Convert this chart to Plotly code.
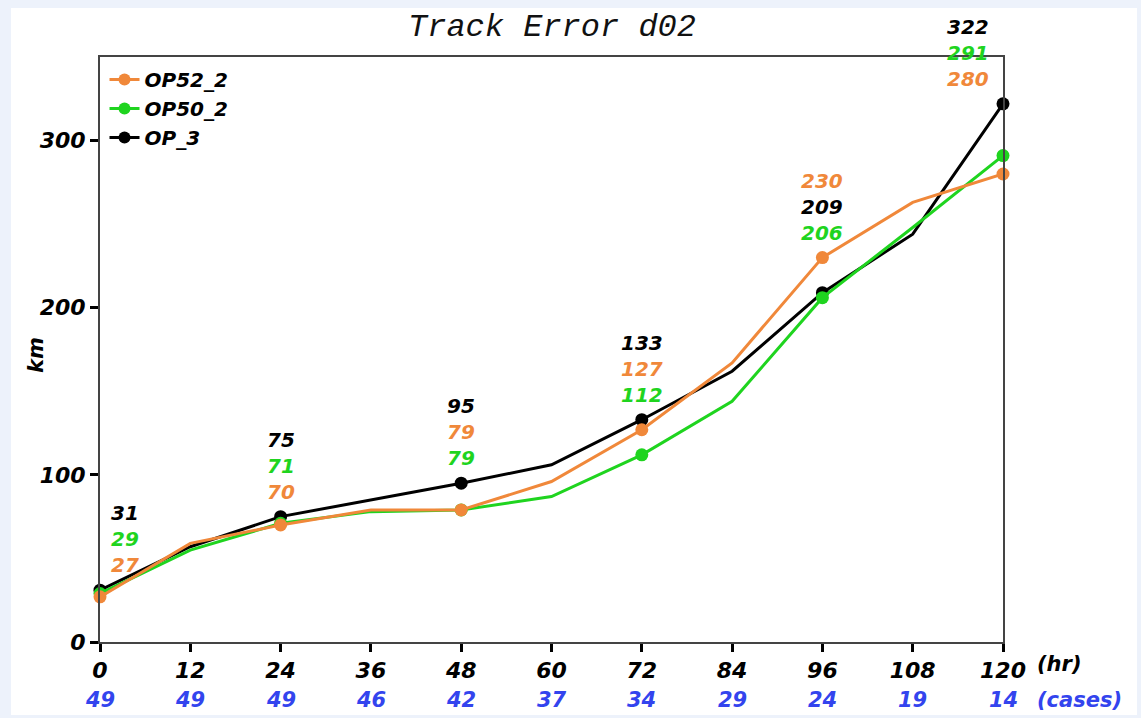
import plotly.graph_objects as go

# Forecast lead times (hours) and number of verified cases at each
hours = [0, 12, 24, 36, 48, 60, 72, 84, 96, 108, 120]
cases = [49, 49, 49, 46, 42, 37, 34, 29, 24, 19, 14]

# Mean track error (km) per experiment
op52_2 = [27, 59, 70, 79, 79, 96, 127, 167, 230, 263, 280]
op50_2 = [29, 55, 71, 78, 79, 87, 112, 144, 206, 248, 291]
op_3 = [31, 57, 75, 85, 95, 106, 133, 162, 209, 244, 322]

series_names = ["OP52_2", "OP50_2", "OP_3"]
series_values = [op52_2, op50_2, op_3]
series_colors = ["#f0883a", "#1fd41f", "#000000"]

W, H = 1141, 718
L, R, T, B = 100, 138, 57, 76
pw, ph = W - L - R, H - T - B

label_font = "DejaVu Sans"
case_color = "#3344ee"

fig = go.Figure()

# legend entries (drawn in legend only)
for name, col in zip(series_names, series_colors):
    fig.add_trace(go.Scatter(
        x=[None], y=[None], name=f"<b><i>{name}</i></b>", mode="lines+markers",
        line=dict(color=col, width=3),
        marker=dict(color=col, size=12, opacity=1),
    ))

# data lines, OP_3 underneath so the others sit on top
for name, vals, col in reversed(list(zip(series_names, series_values, series_colors))):
    sizes = [13 if h % 24 == 0 else 0 for h in hours]
    fig.add_trace(go.Scatter(
        x=hours, y=vals, name=name, mode="lines+markers", showlegend=False,
        line=dict(color=col, width=3),
        marker=dict(color=col, size=sizes, opacity=1, line=dict(width=0)),
        cliponaxis=False,
    ))

annotations = []
# stacked value labels every 24 h, highest value on top
for i, h in enumerate(hours):
    if h % 24 != 0:
        continue
    entries = [(vals[i], col) for vals, col in zip(series_values, series_colors)]
    entries_sorted = sorted(entries, key=lambda e: -e[0])
    top = max(e[0] for e in entries)
    xshift = 25 if h == 0 else (-35 if h == 120 else 0)
    n = len(entries_sorted)
    for k, (v, col) in enumerate(entries_sorted):
        annotations.append(dict(
            x=h, y=top, xref="x", yref="y", text=f"<b><i>{v}</i></b>",
            showarrow=False, xshift=xshift, yshift=25 + 26 * (n - 1 - k),
            font=dict(family=label_font, size=20, color=col),
            yanchor="middle", xanchor="center",
        ))

# case counts under the hour labels
for h, c in zip(hours, cases):
    annotations.append(dict(
        x=h, y=0, xref="x", yref="y", text=f"<b><i>{c}</i></b>",
        showarrow=False, yshift=-58, yanchor="middle",
        font=dict(family=label_font, size=21, color=case_color),
    ))
annotations.append(dict(
    x=120, y=0, xref="x", yref="y", text="<b><i>(cases)</i></b>",
    showarrow=False, xshift=32, yshift=-58, xanchor="left", yanchor="middle",
    font=dict(family=label_font, size=21, color=case_color),
))
annotations.append(dict(
    x=120, y=0, xref="x", yref="y", text="<b><i>(hr)</i></b>",
    showarrow=False, xshift=32, yshift=-22, xanchor="left", yanchor="middle",
    font=dict(family=label_font, size=21, color="#000000"),
))
# y-axis title
annotations.append(dict(
    x=(22 - L) / pw, y=(H - B - 355) / ph, xref="paper", yref="paper",
    text="<b><i>km</i></b>", textangle=-90, showarrow=False,
    font=dict(family=label_font, size=21, color="#000000"),
))

# white panel on the light blue page
shapes = [dict(
    type="rect", xref="paper", yref="paper", layer="below",
    x0=(11 - L) / pw, x1=(1137 - L) / pw,
    y0=(H - B - 715) / ph, y1=(H - B - 8) / ph,
    fillcolor="white", line=dict(width=0),
)]

axis_common = dict(
    showgrid=False, zeroline=False, showline=True, linecolor="#444",
    linewidth=2, mirror=True, ticks="outside", ticklen=8,
    tickwidth=3, tickcolor="#000",
    tickfont=dict(family=label_font, size=22, color="#000"),
)

fig.update_layout(
    width=W, height=H,
    margin=dict(l=L, r=R, t=T, b=B),
    paper_bgcolor="#edf2fb", plot_bgcolor="white",
    title=dict(text="<i>Track Error d02</i>", x=552 / W, xanchor="center",
               y=1 - 25 / H, yanchor="middle",
               font=dict(family="Liberation Mono", size=32, color="#111")),
    showlegend=True,
    legend=dict(x=0.005, y=0.995, xanchor="left", yanchor="top",
                bgcolor="rgba(0,0,0,0)", tracegroupgap=0,
                font=dict(family=label_font, size=20, color="#000")),
    annotations=annotations, shapes=shapes,
    xaxis=dict(range=[0, 120], tickvals=hours,
               ticktext=[f"<b><i>{h}</i></b>" for h in hours], **axis_common),
    yaxis=dict(range=[0, 350], tickvals=[0, 100, 200, 300],
               ticktext=[f"<b><i>{v}</i></b>" for v in [0, 100, 200, 300]],
               **axis_common),
)

fig.write_html("out.html")
